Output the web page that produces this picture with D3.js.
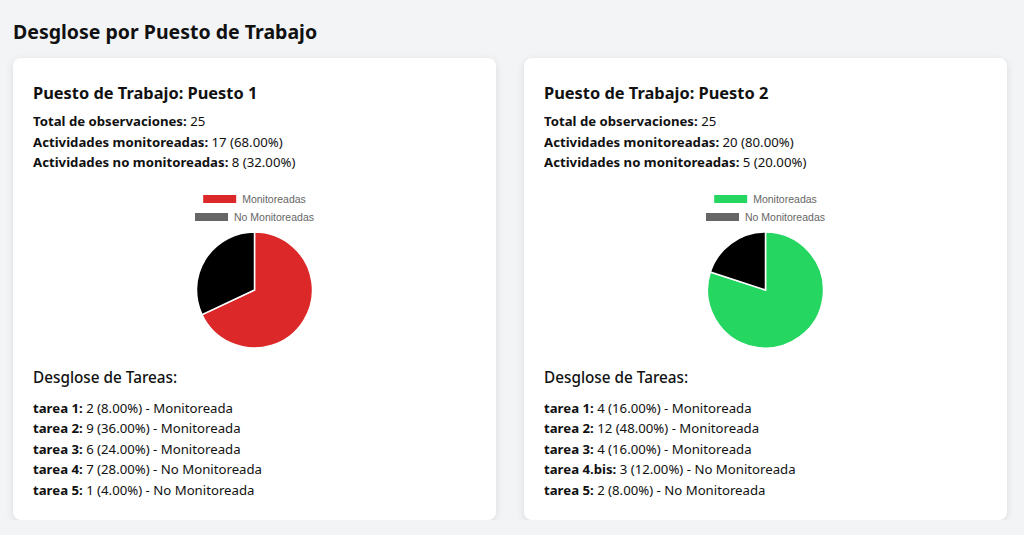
<!DOCTYPE html>
<meta charset="utf-8">
<title>Desglose por Puesto de Trabajo</title>
<style>
body {
    margin: 0;
    padding: 18px 13px 0 13px;
    background: #f3f4f6;
    font-family: "Noto Sans", "Open Sans", sans-serif;
    color: #111;
}
h2 {
    margin: 0 0 12px 0;
    font-size: 19.5px;
    line-height: 28px;
    font-weight: 700;
}
#cards {
    display: flex;
    gap: 28px;
}
.card {
    width: 443px;
    height: 422px;
    padding: 20px;
    background: #fff;
    border-radius: 8px;
    box-shadow: 0 2px 8px rgba(0,0,0,0.10);
}
.card h3 {
    margin: 2px 0 5px 0;
    font-size: 16.4px;
    line-height: 26px;
    font-weight: 700;
}
.card p {
    margin: 0;
    font-size: 13.2px;
    line-height: 20.5px;
}
.card svg { display: block; margin: 8px 0 4px 0; }
.card h4 {
    margin: 0 0 9px 0;
    font-size: 15.3px;
    line-height: 24px;
    font-weight: 500;
}
</style>
<body>
<h2>Desglose por Puesto de Trabajo</h2>
<div id="cards"></div>
<script src="https://d3js.org/d3.v7.min.js"></script>
<script>
// puestos
var puestos = ["Puesto 1", "Puesto 2"];
var totales = [25, 25];
var monitoreadas = [17, 20];
var noMonitoreadas = [8, 5];
var colores = ["#dc2828", "#25d661"];

// tareas por puesto
var tareasNombres = [
    ["tarea 1", "tarea 2", "tarea 3", "tarea 4", "tarea 5"],
    ["tarea 1", "tarea 2", "tarea 3", "tarea 4.bis", "tarea 5"]
];
var tareasValores = [
    [2, 9, 6, 7, 1],
    [4, 12, 4, 3, 2]
];
var tareasMonitoreada = [
    [true, true, true, false, false],
    [true, true, true, false, false]
];

var legendLabels = ["Monitoreadas", "No Monitoreadas"];

function pct(v, t) { return (v / t * 100).toFixed(2) + "%"; }

var W = 443, H = 180, R = 58;

puestos.forEach(function(p, i) {
    var card = d3.select("#cards").append("div").attr("class", "card");
    card.append("h3").text("Puesto de Trabajo: " + p);

    var info = [
        ["Total de observaciones:", " " + totales[i]],
        ["Actividades monitoreadas:", " " + monitoreadas[i] + " (" + pct(monitoreadas[i], totales[i]) + ")"],
        ["Actividades no monitoreadas:", " " + noMonitoreadas[i] + " (" + pct(noMonitoreadas[i], totales[i]) + ")"]
    ];
    info.forEach(function(d) {
        var pp = card.append("p");
        pp.append("strong").text(d[0]);
        pp.append("span").text(d[1]);
    });

    var svg = card.append("svg").attr("width", W).attr("height", H);
    var cx = W / 2;

    // leyenda
    var legColors = [colores[i], "#666666"];
    legendLabels.forEach(function(l, k) {
        var g = svg.append("g");
        var t = g.append("text")
            .attr("y", 18 + k * 18)
            .attr("dy", "0.35em")
            .attr("font-family", "Liberation Sans, Arial, sans-serif")
            .attr("font-size", 10.5)
            .attr("fill", "#666")
            .text(l);
        var tw = t.node().getComputedTextLength();
        var total = 33 + 6 + tw;
        var x0 = cx - total / 2;
        g.insert("rect", "text")
            .attr("x", x0).attr("y", 18 + k * 18 - 4)
            .attr("width", 33).attr("height", 8)
            .attr("fill", legColors[k]);
        t.attr("x", x0 + 39);
    });

    // pie
    var data = [monitoreadas[i], noMonitoreadas[i]];
    var pie = d3.pie().sort(null)(data);
    var arc = d3.arc().innerRadius(0).outerRadius(R);
    svg.append("g")
        .attr("transform", "translate(" + cx + ",109)")
        .selectAll("path")
        .data(pie)
        .enter().append("path")
        .attr("d", arc)
        .attr("fill", function(d, k) { return k === 0 ? colores[i] : "#000"; })
        .attr("stroke", "#fff")
        .attr("stroke-width", 1.5);

    card.append("h4").text("Desglose de Tareas:");
    tareasNombres[i].forEach(function(n, k) {
        var pp = card.append("p");
        pp.append("strong").text(n + ":");
        pp.append("span").text(" " + tareasValores[i][k] + " (" + pct(tareasValores[i][k], totales[i]) + ") - " +
            (tareasMonitoreada[i][k] ? "Monitoreada" : "No Monitoreada"));
    });
});
</script>
</body>
